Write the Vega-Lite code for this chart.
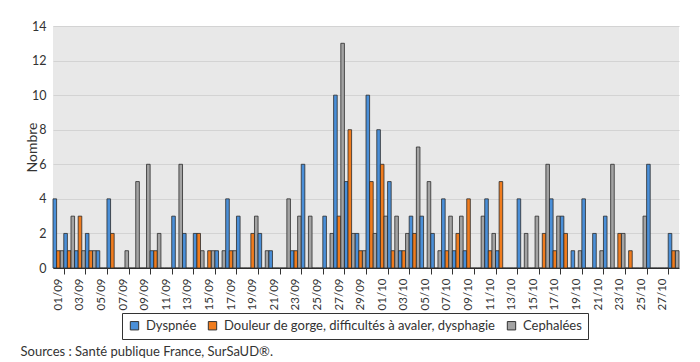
{
  "$schema": "https://vega.github.io/schema/vega-lite/v6.json",
  "width": 626,
  "height": 242,
  "autosize": "none",
  "padding": {"left": 53, "top": 26, "right": 21, "bottom": 94},
  "background": "white",
  "data": {"values": [
    {"d":"01/09","D":4,"O":1,"C":1},
    {"d":"02/09","D":2,"O":1,"C":3},
    {"d":"03/09","D":1,"O":3,"C":1},
    {"d":"04/09","D":2,"O":1,"C":1},
    {"d":"05/09","D":1,"O":0,"C":0},
    {"d":"06/09","D":4,"O":2,"C":0},
    {"d":"07/09","D":0,"O":0,"C":1},
    {"d":"08/09","D":0,"O":0,"C":5},
    {"d":"09/09","D":0,"O":0,"C":6},
    {"d":"10/09","D":1,"O":1,"C":2},
    {"d":"11/09","D":0,"O":0,"C":0},
    {"d":"12/09","D":3,"O":0,"C":6},
    {"d":"13/09","D":2,"O":0,"C":0},
    {"d":"14/09","D":2,"O":2,"C":1},
    {"d":"15/09","D":0,"O":1,"C":1},
    {"d":"16/09","D":1,"O":0,"C":1},
    {"d":"17/09","D":4,"O":1,"C":1},
    {"d":"18/09","D":3,"O":0,"C":0},
    {"d":"19/09","D":0,"O":2,"C":3},
    {"d":"20/09","D":2,"O":0,"C":1},
    {"d":"21/09","D":1,"O":0,"C":0},
    {"d":"22/09","D":0,"O":0,"C":4},
    {"d":"23/09","D":1,"O":1,"C":3},
    {"d":"24/09","D":6,"O":0,"C":3},
    {"d":"25/09","D":0,"O":0,"C":0},
    {"d":"26/09","D":3,"O":0,"C":2},
    {"d":"27/09","D":10,"O":3,"C":13},
    {"d":"28/09","D":5,"O":8,"C":2},
    {"d":"29/09","D":2,"O":1,"C":1},
    {"d":"30/09","D":10,"O":5,"C":2},
    {"d":"01/10","D":8,"O":6,"C":3},
    {"d":"02/10","D":5,"O":1,"C":3},
    {"d":"03/10","D":1,"O":1,"C":2},
    {"d":"04/10","D":3,"O":2,"C":7},
    {"d":"05/10","D":3,"O":0,"C":5},
    {"d":"06/10","D":2,"O":0,"C":1},
    {"d":"07/10","D":4,"O":1,"C":3},
    {"d":"08/10","D":1,"O":2,"C":3},
    {"d":"09/10","D":1,"O":4,"C":0},
    {"d":"10/10","D":0,"O":0,"C":3},
    {"d":"11/10","D":4,"O":1,"C":2},
    {"d":"12/10","D":1,"O":5,"C":0},
    {"d":"13/10","D":0,"O":0,"C":0},
    {"d":"14/10","D":4,"O":0,"C":2},
    {"d":"15/10","D":0,"O":0,"C":3},
    {"d":"16/10","D":0,"O":2,"C":6},
    {"d":"17/10","D":4,"O":1,"C":3},
    {"d":"18/10","D":3,"O":2,"C":0},
    {"d":"19/10","D":1,"O":0,"C":1},
    {"d":"20/10","D":4,"O":0,"C":0},
    {"d":"21/10","D":2,"O":0,"C":1},
    {"d":"22/10","D":3,"O":0,"C":6},
    {"d":"23/10","D":0,"O":2,"C":2},
    {"d":"24/10","D":0,"O":1,"C":0},
    {"d":"25/10","D":0,"O":0,"C":3},
    {"d":"26/10","D":6,"O":0,"C":0},
    {"d":"27/10","D":0,"O":0,"C":0},
    {"d":"28/10","D":2,"O":1,"C":1}
  ]},
  "transform": [{"fold": ["D", "O", "C"], "as": ["s", "v"]}],
  "mark": {"type": "bar", "stroke": "#2b2b2b", "strokeWidth": 0.8},
  "encoding": {
    "x": {
      "field": "d", "type": "nominal", "sort": null,
      "scale": {"paddingInner": 0, "paddingOuter": 0},
      "axis": {
        "title": "Sources : Santé publique France, SurSaUD®.",
        "titleAnchor": "start", "titleAlign": "left", "titleX": -33, "titleY": 87,
        "titleBaseline": "alphabetic", "titleFontSize": 13, "titleFontWeight": "normal", "titleColor": "#333",
        "labelAngle": -90,
        "labelExpr": "toNumber(substring(datum.value,0,2)) % 2 == 1 ? datum.value : ''",
        "labelFontSize": 11.5, "labelColor": "#333", "labelPadding": 4,
        "tickBand": "extent", "tickSize": 6, "tickColor": "#333",
        "tickOpacity": {"condition": {"test": "toNumber(substring(datum.value,0,2)) % 2 == 1", "value": 1}, "value": 0},
        "domainColor": "#333", "grid": false
      }
    },
    "xOffset": {"field": "s", "type": "nominal", "sort": ["D", "O", "C"], "scale": {"paddingInner": 0, "paddingOuter": 0}},
    "y": {
      "field": "v", "type": "quantitative",
      "scale": {"domain": [0, 14]},
      "axis": {
        "title": "Nombre", "values": [0, 2, 4, 6, 8, 10, 12, 14],
        "titleFontSize": 14, "titleFontWeight": "normal", "titleColor": "#333",
        "titleX": -21, "titleY": 121, "titleBaseline": "middle", "titleAngle": -90,
        "labelFontSize": 12.5, "labelColor": "#333", "labelPadding": 7,
        "ticks": false, "domain": false, "gridColor": "#d3d3d3"
      }
    },
    "color": {
      "field": "s", "type": "nominal",
      "scale": {"domain": ["D", "O", "C"], "range": ["#4a8fd8", "#f07c1e", "#a3a3a3"]},
      "legend": {
        "orient": "none", "legendX": 69, "legendY": 287, "direction": "horizontal",
        "title": null, "symbolType": "square", "symbolSize": 70,
        "symbolStrokeColor": "#333", "symbolStrokeWidth": 1,
        "labelFontSize": 13, "labelColor": "#333", "labelLimit": 400, "labelOffset": 5,
        "columnPadding": 9, "padding": 6, "strokeColor": "#333", "fillColor": "white",
        "labelExpr": "datum.label == 'D' ? 'Dyspnée' : datum.label == 'O' ? 'Douleur de gorge, difficultés à avaler, dysphagie' : 'Cephalées'"
      }
    }
  },
  "config": {
    "font": "Lato",
    "view": {"fill": "#e8e8e8", "stroke": null}
  }
}
